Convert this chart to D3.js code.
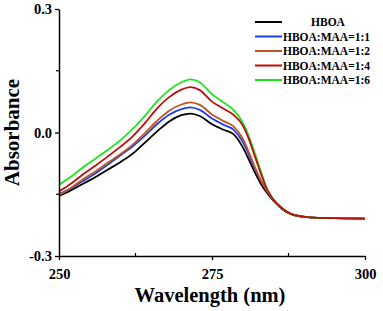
<!DOCTYPE html>
<html>
<head>
<meta charset="utf-8">
<script src="https://cdn.jsdelivr.net/npm/d3@7"></script>
<style>
  body { margin: 0; background: #fff; }
  svg text { font-family: "Liberation Serif", "Times New Roman", serif; font-weight: bold; }
</style>
</head>
<body>
<div id="chart"></div>
<script>
// wavelengths (nm)
const wavelengths = [250,252,254,256,258,260,262,264,266,268,270,271.5,273,275,277,278.5,280,281,282,283,284,285,286,287,288,289,291,295,300];

// absorbance of each sample
const hboa   = [-0.154,-0.140,-0.124,-0.108,-0.090,-0.072,-0.052,-0.025,0.002,0.027,0.042,0.046,0.040,0.020,0.006,-0.004,-0.035,-0.065,-0.097,-0.125,-0.147,-0.165,-0.180,-0.192,-0.199,-0.203,-0.206,-0.208,-0.209];
const maa11  = [-0.150,-0.135,-0.117,-0.099,-0.078,-0.056,-0.034,-0.008,0.020,0.043,0.057,0.061,0.055,0.034,0.018,0.007,-0.022,-0.053,-0.088,-0.118,-0.143,-0.163,-0.179,-0.191,-0.198,-0.202,-0.206,-0.208,-0.209];
const maa12  = [-0.152,-0.134,-0.113,-0.094,-0.073,-0.053,-0.030,-0.002,0.028,0.053,0.068,0.073,0.067,0.044,0.027,0.015,-0.014,-0.047,-0.084,-0.116,-0.142,-0.163,-0.179,-0.191,-0.198,-0.202,-0.206,-0.208,-0.209];
const maa14  = [-0.143,-0.124,-0.101,-0.080,-0.058,-0.035,-0.010,0.022,0.058,0.086,0.104,0.110,0.103,0.075,0.057,0.043,0.018,-0.015,-0.058,-0.100,-0.138,-0.162,-0.178,-0.190,-0.198,-0.202,-0.206,-0.208,-0.209];
const maa16  = [-0.127,-0.107,-0.084,-0.063,-0.042,-0.019,0.008,0.040,0.075,0.103,0.122,0.129,0.122,0.093,0.072,0.055,0.025,-0.008,-0.050,-0.095,-0.138,-0.162,-0.178,-0.190,-0.198,-0.202,-0.206,-0.208,-0.209];

const seriesNames = ["HBOA", "HBOA:MAA=1:1", "HBOA:MAA=1:2", "HBOA:MAA=1:4", "HBOA:MAA=1:6"];
const seriesValues = [hboa, maa11, maa12, maa14, maa16];
const seriesColors = ["#000000", "#1f3df2", "#c0561e", "#c00d0d", "#1ee61e"];
const drawOrder = [0, 1, 2, 4, 3];

const xTicks = [250, 275, 300];
const xMinorTicks = [262.5, 287.5];
const yTicks = [-0.3, 0.0, 0.3];
const yMinorTicks = [-0.15, 0.15];

const width = 383, height = 311;
const margin = {top: 9, right: 18, bottom: 55, left: 59};
const innerW = width - margin.left - margin.right;
const innerH = height - margin.top - margin.bottom;

const svg = d3.select("#chart").append("svg")
  .attr("width", width)
  .attr("height", height);

const g = svg.append("g")
  .attr("transform", `translate(${margin.left},${margin.top})`);

const x = d3.scaleLinear().domain([250, 300]).range([0, innerW]);
const y = d3.scaleLinear().domain([-0.3, 0.3]).range([innerH, 0]);

// curves
const line = d3.line()
  .x(d => x(d[0]))
  .y(d => y(d[1]))
  .curve(d3.curveMonotoneX);

drawOrder.forEach(i => {
  g.append("path")
    .datum(wavelengths.map((w, j) => [w, seriesValues[i][j]]))
    .attr("fill", "none")
    .attr("stroke", seriesColors[i])
    .attr("stroke-width", 1.8)
    .attr("d", line);
});

// x axis
const xAxis = g.append("g")
  .attr("transform", `translate(0,${innerH})`)
  .call(d3.axisBottom(x).tickValues(xTicks).tickSize(4).tickSizeOuter(0).tickFormat(d3.format("d")));
xAxis.select(".domain").attr("stroke-width", 1.5);
xAxis.selectAll(".tick line").attr("stroke-width", 1.3);
xAxis.selectAll("text").style("font-size", "14.5px").attr("dy", "1.1em").attr("fill", "#000");
xAxis.selectAll(".minor")
  .data(xMinorTicks).join("line")
  .attr("class", "minor")
  .attr("x1", d => x(d)).attr("x2", d => x(d))
  .attr("y1", 0).attr("y2", -3)
  .attr("stroke", "#000").attr("stroke-width", 1.2);

// y axis
const yAxis = g.append("g")
  .call(d3.axisLeft(y).tickValues(yTicks).tickSize(4).tickSizeOuter(0).tickFormat(d => d3.format(".1f")(d).replace("−", "-")));
yAxis.select(".domain").attr("stroke-width", 1.5);
yAxis.selectAll(".tick line").attr("stroke-width", 1.3);
yAxis.selectAll("text").style("font-size", "14.5px").attr("x", -7).attr("fill", "#000");
yAxis.selectAll(".minor")
  .data(yMinorTicks).join("line")
  .attr("class", "minor")
  .attr("x1", 0).attr("x2", -3)
  .attr("y1", d => y(d)).attr("y2", d => y(d))
  .attr("stroke", "#000").attr("stroke-width", 1.2);

// axis titles
svg.append("text")
  .attr("x", margin.left + innerW / 2 - 2)
  .attr("y", 302)
  .attr("text-anchor", "middle")
  .style("font-size", "20.5px")
  .text("Wavelength (nm)");

svg.append("text")
  .attr("transform", `translate(19,${margin.top + innerH / 2}) rotate(-90)`)
  .attr("text-anchor", "middle")
  .style("font-size", "21px")
  .text("Absorbance");

// legend
const legend = svg.append("g").attr("transform", "translate(255,22)");
seriesNames.forEach((name, i) => {
  const row = legend.append("g").attr("transform", `translate(0,${i * 14.5})`);
  row.append("line")
    .attr("x1", 0).attr("x2", 27)
    .attr("stroke", seriesColors[i])
    .attr("stroke-width", 2);
  row.append("text")
    .attr("x", i === 0 ? 73 : 28)
    .attr("y", 4)
    .attr("text-anchor", i === 0 ? "middle" : "start")
    .style("font-size", "11.5px")
    .text(name);
});
</script>
</body>
</html>
